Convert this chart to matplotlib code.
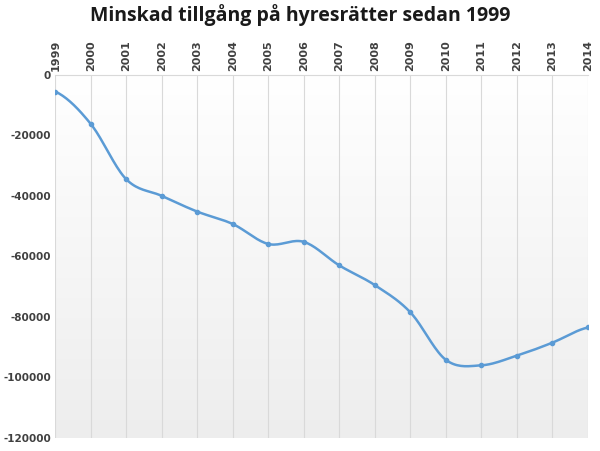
import matplotlib
matplotlib.use("Agg")
import matplotlib.pyplot as plt
import numpy as np

years = list(range(1999, 2015))
values = [-5500, -16200, -34500, -40000, -45200, -49300, -55900, -55200,
          -63000, -69500, -78500, -94200, -96000, -92800, -88500, -83500]

fig = plt.figure(figsize=(6, 4.51), dpi=100)
ax = fig.add_axes([0.092, 0.029, 0.888, 0.805])
x = np.arange(len(years))

grad = np.linspace(1.0, 0.93, 256).reshape(-1, 1)
ax.imshow(np.dstack([grad, grad, grad]), extent=[-0.0, len(years) - 1, -120000, 0],
          aspect='auto', zorder=0)

p = np.array(values, float)
xs, ys = [], []
pp = np.concatenate([[p[0]], p, [p[-1]]])
for i in range(len(p) - 1):
    p0, p1, p2, p3 = pp[i], pp[i + 1], pp[i + 2], pp[i + 3]
    t = np.linspace(0, 1, 20)
    y = 0.5 * ((2 * p1) + (-p0 + p2) * t + (2 * p0 - 5 * p1 + 4 * p2 - p3) * t**2 + (-p0 + 3 * p1 - 3 * p2 + p3) * t**3)
    xs.extend(i + t); ys.extend(y)
ax.plot(xs, ys, color='#5B9BD5', lw=1.8, zorder=3)
ax.plot(x, values, 'o', color='#5B9BD5', ms=3, zorder=4)

ax.set_xlim(0, len(years) - 1)
ax.set_ylim(-120000, 0)
ax.set_xticks(x)
ax.set_xticklabels([str(y) for y in years], rotation=90, fontsize=8, color='#404040',
                   fontweight='bold')
ax.xaxis.tick_top()
ax.tick_params(axis='x', length=0, pad=3)
ax.set_yticks(np.arange(-120000, 1, 20000))
ax.set_yticklabels([str(v) for v in range(-120000, 1, 20000)], fontsize=7.5, color='#404040',
                   fontweight='bold')
ax.tick_params(axis='y', length=0, pad=3)
ax.grid(axis='x', color='#D9D9D9', lw=0.8, zorder=1)
ax.set_axisbelow(True)
for s in ['left', 'right', 'bottom']:
    ax.spines[s].set_visible(False)
ax.spines['top'].set_color('#D9D9D9')

fig.suptitle('Minskad tillgång på hyresrätter sedan 1999', fontsize=14, fontweight='bold',
             family='Open Sans', y=0.99, color='#1a1a1a')
fig.savefig('out.png')
